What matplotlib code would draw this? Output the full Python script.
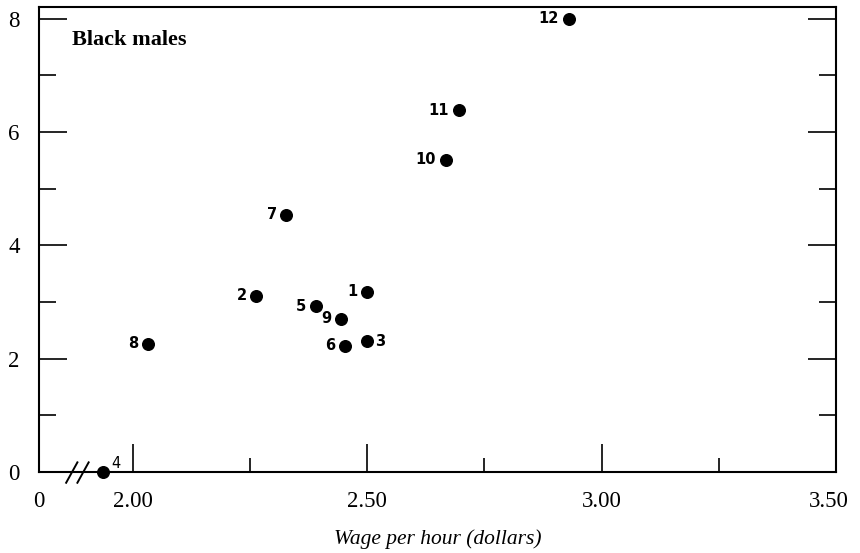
"""
Black males: wage per hour against the plotted quantity, one numbered
dot per group, with a broken x axis that starts at zero.
"""

import matplotlib
matplotlib.use("Agg")
import matplotlib.pyplot as plt
from matplotlib.ticker import MultipleLocator, FixedLocator
from matplotlib.transforms import ScaledTranslation

# ── Data ──────────────────────────────────────────────────────────────────────

LABELS = ["1", "2", "3", "4", "5", "6", "7", "8", "9", "10", "11", "12"]
WAGE   = [2.50, 2.264, 2.50, 1.936, 2.39, 2.453, 2.328, 2.032, 2.445, 2.668, 2.696, 2.93]
VALUE  = [3.18, 3.11, 2.31, 0.00, 2.92, 2.23, 4.54, 2.26, 2.70, 5.51, 6.38, 8.00]

# where each number sits relative to its dot
SIDE = {"3": "right", "4": "upright"}

X_TICKS  = [1.80, 2.00, 2.50, 3.00, 3.50]
X_LABELS = ["0", "2.00", "2.50", "3.00", "3.50"]
X_MINOR  = [2.25, 2.75, 3.25]
BREAK_AT = 1.88

SERIF = ["Liberation Serif", "DejaVu Serif"]

# ── Drawing ───────────────────────────────────────────────────────────────────

fig = plt.figure(figsize=(8.6, 5.53), dpi=100, facecolor="white")
ax = fig.add_axes([0.0453, 0.1465, 0.9267, 0.8405])

ax.scatter(WAGE, VALUE, s=70, color="black", zorder=3, clip_on=False)

for lab, x, y in zip(LABELS, WAGE, VALUE):
    side = SIDE.get(lab, "left")
    if side == "left":
        ax.annotate(lab, (x, y), xytext=(-7, 0), textcoords="offset points",
                    ha="right", va="center", fontsize=10.5, fontweight="bold",
                    family="DejaVu Sans")
    elif side == "right":
        ax.annotate(lab, (x, y), xytext=(6, 0), textcoords="offset points",
                    ha="left", va="center", fontsize=10.5, fontweight="bold",
                    family="DejaVu Sans")
    else:
        ax.annotate(lab, (x, y), xytext=(6, 1), textcoords="offset points",
                    ha="left", va="bottom", fontsize=10.5, family="DejaVu Sans")

ax.set_xlim(1.80, 3.50)
ax.set_ylim(0, 8.2)

ax.xaxis.set_major_locator(FixedLocator(X_TICKS))
ax.set_xticklabels(X_LABELS)
ax.xaxis.set_minor_locator(FixedLocator(X_MINOR))
ax.yaxis.set_major_locator(MultipleLocator(2))
ax.yaxis.set_minor_locator(MultipleLocator(1))

ax.tick_params(axis="x", which="both", direction="in", top=False, bottom=True,
               pad=14, labelsize=16.5, width=1.2)
ax.tick_params(axis="x", which="major", length=20)
ax.tick_params(axis="x", which="minor", length=10)
ax.tick_params(axis="y", which="both", direction="in", left=True, right=True,
               pad=14, labelsize=16.5, width=1.2)
ax.tick_params(axis="y", which="major", length=20)
ax.tick_params(axis="y", which="minor", length=12)
# no tick drawn at the fake zero of the broken axis
ax.xaxis.get_major_ticks()[0].tick1line.set_visible(False)
for t in ax.get_xticklabels() + ax.get_yticklabels():
    t.set_family(SERIF)

# the last x label sits a little left of the right spine
last = ax.xaxis.get_major_ticks()[-1].label1
last.set_transform(last.get_transform()
                   + ScaledTranslation(-5 / 72, 0, fig.dpi_scale_trans))

for sp in ax.spines.values():
    sp.set_linewidth(1.5)

# axis break marks "//"
for dx in (-0.01, 0.014):
    ax.plot([BREAK_AT + dx - 0.012, BREAK_AT + dx + 0.012], [-0.19, 0.17],
            color="black", lw=1.4, clip_on=False, zorder=4)

ax.text(0.042, 0.93, "Black males", transform=ax.transAxes, fontsize=16,
        fontweight="bold", family=SERIF, ha="left", va="center")

ax.set_xlabel("Wage per hour (dollars)", fontsize=15.5, style="italic",
              family=SERIF, labelpad=12)

fig.savefig("out.png", dpi=100, facecolor="white")
